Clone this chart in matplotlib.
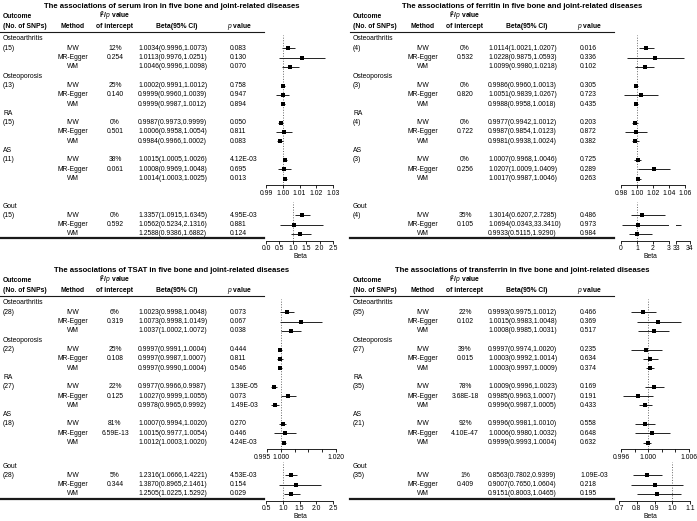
import numpy as np
import matplotlib.pyplot as plt
from matplotlib.lines import Line2D
from matplotlib.transforms import ScaledTranslation

plt.rcParams['font.family'] = ['Liberation Sans', 'DejaVu Sans']
plt.rcParams['mathtext.fontset'] = 'custom'
plt.rcParams['mathtext.rm'] = 'Liberation Sans'
plt.rcParams['mathtext.it'] = 'Liberation Sans:italic'
plt.rcParams['mathtext.bf'] = 'Liberation Sans:bold'

W, H = 697, 521
FS = 4.9
ROW = 9.3

outcomes = ["Osteoarthritis", "Osteoporosis", "RA", "AS", "Gout"]
methods = ["IVW", "MR-Egger", "WM"]

# serum iron
iron_snps = [15, 13, 15, 11, 15]
iron_i2 = ["12%", "25%", "0%", "38%", "0%"]
iron_egger = ["0.254", "0.140", "0.501", "0.061", "0.592"]
iron_beta = [[1.0034, 1.0113, 1.0046], [1.0002, 0.9999, 0.9999], [0.9987, 1.0006, 0.9984],
             [1.0015, 1.0008, 1.0014], [1.3357, 1.0562, 1.2588]]
iron_lo = [[0.9996, 0.9976, 0.9996], [0.9991, 0.9960, 0.9987], [0.9973, 0.9958, 0.9966],
           [1.0005, 0.9969, 1.0003], [1.0915, 0.5234, 0.9386]]
iron_hi = [[1.0073, 1.0251, 1.0098], [1.0012, 1.0039, 1.0012], [0.9999, 1.0054, 1.0002],
           [1.0026, 1.0048, 1.0025], [1.6345, 2.1316, 1.6882]]
iron_p = [["0.083", "0.130", "0.070"], ["0.758", "0.947", "0.894"], ["0.050", "0.811", "0.083"],
          ["4.12E-03", "0.695", "0.013"], ["4.95E-03", "0.881", "0.124"]]

# ferritin
ferr_snps = [4, 3, 4, 3, 4]
ferr_i2 = ["0%", "0%", "0%", "0%", "35%"]
ferr_egger = ["0.532", "0.820", "0.722", "0.256", "0.105"]
ferr_beta = [[1.0114, 1.0228, 1.0099], [0.9986, 1.0051, 0.9988], [0.9977, 0.9987, 0.9981],
             [1.0007, 1.0207, 1.0017], [1.3014, 1.0694, 0.9933]]
ferr_lo = [[1.0021, 0.9875, 0.9980], [0.9960, 0.9839, 0.9958], [0.9942, 0.9854, 0.9938],
           [0.9968, 1.0009, 0.9987], [0.6207, 0.0343, 0.5115]]
ferr_hi = [[1.0207, 1.0593, 1.0218], [1.0013, 1.0267, 1.0018], [1.0012, 1.0123, 1.0024],
           [1.0046, 1.0409, 1.0046], [2.7285, 33.3410, 1.9290]]
ferr_p = [["0.016", "0.336", "0.102"], ["0.305", "0.723", "0.435"], ["0.203", "0.872", "0.382"],
          ["0.725", "0.289", "0.263"], ["0.486", "0.973", "0.984"]]

# TSAT
tsat_snps = [28, 22, 27, 18, 28]
tsat_i2 = ["6%", "25%", "22%", "81%", "5%"]
tsat_egger = ["0.319", "0.108", "0.125", "6.59E-13", "0.344"]
tsat_beta = [[1.0023, 1.0073, 1.0037], [0.9997, 0.9997, 0.9997], [0.9977, 1.0027, 0.9978],
             [1.0007, 1.0015, 1.0012], [1.2316, 1.3870, 1.2505]]
tsat_lo = [[0.9998, 0.9998, 1.0002], [0.9991, 0.9987, 0.9990], [0.9966, 0.9999, 0.9965],
           [0.9994, 0.9977, 1.0003], [1.0666, 0.8965, 1.0225]]
tsat_hi = [[1.0048, 1.0149, 1.0072], [1.0004, 1.0007, 1.0004], [0.9987, 1.0055, 0.9992],
           [1.0020, 1.0054, 1.0020], [1.4221, 2.1461, 1.5292]]
tsat_p = [["0.073", "0.067", "0.038"], ["0.444", "0.811", "0.546"], ["1.39E-05", "0.073", "1.49E-03"],
          ["0.270", "0.446", "4.24E-03"], ["4.53E-03", "0.154", "0.029"]]

# transferrin
tf_snps = [35, 27, 35, 21, 35]
tf_i2 = ["22%", "39%", "78%", "92%", "1%"]
tf_egger = ["0.102", "0.015", "3.68E-18", "4.10E-47", "0.409"]
tf_beta = [[0.9993, 1.0015, 1.0008], [0.9997, 1.0003, 1.0003], [1.0009, 0.9985, 0.9996],
           [0.9996, 1.0006, 0.9999], [0.8563, 0.9007, 0.9151]]
tf_lo = [[0.9975, 0.9983, 0.9985], [0.9974, 0.9992, 0.9997], [0.9996, 0.9963, 0.9987],
         [0.9981, 0.9980, 0.9993], [0.7802, 0.7650, 0.8003]]
tf_hi = [[1.0012, 1.0048, 1.0031], [1.0020, 1.0014, 1.0009], [1.0023, 1.0007, 1.0005],
         [1.0010, 1.0032, 1.0004], [0.9399, 1.0604, 1.0465]]
tf_p = [["0.466", "0.369", "0.517"], ["0.235", "0.634", "0.374"], ["0.169", "0.191", "0.433"],
        ["0.558", "0.648", "0.632"], ["1.09E-03", "0.218", "0.195"]]

fig = plt.figure(figsize=(W / 100, H / 100), dpi=100)


def put(x, y, s, **kw):
    kw.setdefault('fontsize', FS)
    kw.setdefault('va', 'center')
    fig.text(x / W, 1 - y / H, s, **kw)


def hline(x0, x1, y, lw):
    fig.add_artist(Line2D([x0 / W, x1 / W], [1 - y / H, 1 - y / H], lw=lw,
                          color='#1a1a1a', transform=fig.transFigure))


def px_axes(x0, y0, x1, y1):
    ax = fig.add_axes([x0 / W, 1 - y1 / H, (x1 - x0) / W, (y1 - y0) / H])
    ax.set_ylim(y1, y0)
    ax.patch.set_alpha(0)
    for s in ['left', 'right', 'top']:
        ax.spines[s].set_visible(False)
    ax.spines['bottom'].set_linewidth(0.6)
    ax.set_yticks([])
    ax.tick_params(axis='x', length=2.2, width=0.6, labelsize=FS, pad=1.3)
    return ax


def forest(ax, ys, beta, lo, hi, ref=True):
    if ref:
        ax.axvline(1.0, color='#666666', ls=':', lw=0.7)
    ax.hlines(ys, lo, hi, color='#222222', lw=0.7)
    ax.plot(beta, ys, 's', color='black', ms=2.3, mew=0, ls='none')


def panel(px, t, title, snps, i2, egger, beta, lo, hi, pvals,
          up_lim, up_ticks, up_labels, g_lim, g_ticks, g_labels, fx=(266, 333), gfx=(266, 333),
          broken=None, nudge_first=0, gy=199):
    put(px + 172, t, title, fontweight='bold', fontsize=5.55, ha='center')
    put(px + 3, t + 10, "Outcome", fontweight='bold')
    put(px + 3, t + 20, "(No. of SNPs)", fontweight='bold')
    put(px + 73, t + 20, "Method", fontweight='bold', ha='center')
    put(px + 115, t + 10, r"$\mathbf{I}^{\mathbf{2}}$/$\mathit{p}$ value", fontweight='bold', ha='center')
    put(px + 115, t + 20, "of intercept", fontweight='bold', ha='center')
    put(px + 177, t + 20, "Beta(95% CI)", fontweight='bold', ha='center')
    put(px + 227, t + 20, r"$\mathit{p}$ value", fontweight='bold', ha='left')
    hline(px, px + 264, t + 26, 0.8)

    rows_y = []
    for k, name in enumerate(outcomes):
        y0 = t + 33 + ROW * 4 * k if k < 4 else t + gy
        put(px + 3, y0, name)
        ys = [y0 + ROW * (j + 1) for j in range(3)]
        rows_y.append(ys)
        put(px + 3, ys[0], f"({snps[k]})")
        for j, m in enumerate(methods):
            put(px + 73, ys[j], m, ha='center')
            put(px + 138, ys[j], f"{beta[k][j]:.4f}({lo[k][j]:.4f},{hi[k][j]:.4f})")
            put(px + 230, ys[j], pvals[k][j])
        put(px + 115, ys[0], i2[k], ha='center')
        put(px + 115, ys[1], egger[k], ha='center')
    last = rows_y[4][2]
    hline(px, px + 264, last + 4.6, 1.6)

    # upper forest: four outcomes
    ax = px_axes(px + fx[0], t + 29, px + fx[1], t + 179)
    ax.axvline(1.0, color='#666666', ls=':', lw=0.7)
    for k in range(4):
        forest(ax, rows_y[k], beta[k], lo[k], hi[k], ref=False)
    ax.set_xlim(*up_lim)
    ax.set_xticks(up_ticks)
    ax.set_xticklabels(up_labels)
    if nudge_first:
        lbl = ax.xaxis.get_major_ticks()[0].label1
        lbl.set_transform(lbl.get_transform() + ScaledTranslation(nudge_first / 100, 0, fig.dpi_scale_trans))

    # gout forest (own scale)
    g_axis = last + 6.6
    segs = [(gfx, g_lim, g_ticks, g_labels)]
    if broken:
        segs.append(broken)
    for n, (sx, lim, tks, lbls) in enumerate(segs):
        ax = px_axes(px + sx[0], t + gy - 4, px + sx[1], g_axis)
        forest(ax, rows_y[4], beta[4], lo[4], hi[4], ref=(n == 0))
        ax.set_xlim(*lim)
        ax.set_xticks(tks)
        ax.set_xticklabels(lbls)
    put(px + 300, g_axis + 16, "Beta", ha='center')


panel(0, 6, "The associations of serum iron in five bone and joint-related diseases",
      iron_snps, iron_i2, iron_egger, iron_beta, iron_lo, iron_hi, iron_p,
      (0.99, 1.03), [0.99, 1.00, 1.01, 1.02, 1.03], ["0.99", "1.00", "1.01", "1.02", "1.03"],
      (0.0, 2.5), [0.0, 0.5, 1.0, 1.5, 2.0, 2.5], ["0.0", "0.5", "1.0", "1.5", "2.0", "2.5"],
      gy=200)

panel(350, 6, "The associations of ferritin in five bone and joint-related diseases",
      ferr_snps, ferr_i2, ferr_egger, ferr_beta, ferr_lo, ferr_hi, ferr_p,
      (0.98, 1.06), [0.98, 1.00, 1.02, 1.04, 1.06], ["0.98", "1.00", "1.02", "1.04", "1.06"],
      (0, 3), [0, 1, 2, 3], ["0", "1", "2", "3"], fx=(271, 335), gfx=(271, 319),
      broken=((326, 340), (33, 34), [33, 34], ["33", "34"]), gy=200)

panel(0, 270, "The associations of TSAT in five bone and joint-related diseases",
      tsat_snps, tsat_i2, tsat_egger, tsat_beta, tsat_lo, tsat_hi, tsat_p,
      (0.995, 1.020), [0.995, 1.000, 1.005, 1.010, 1.015, 1.020], ["0.995", "1.000", "", "", "", "1.020"],
      (0.5, 2.5), [0.5, 1.0, 1.5, 2.0, 2.5], ["0.5", "1.0", "1.5", "2.0", "2.5"],
      fx=(267, 336), nudge_first=-5, gy=196)

panel(350, 270, "The associations of transferrin in five bone and joint-related diseases",
      tf_snps, tf_i2, tf_egger, tf_beta, tf_lo, tf_hi, tf_p,
      (0.996, 1.006), [0.996, 0.998, 1.000, 1.002, 1.004, 1.006], ["0.996", "", "1.000", "", "", "1.006"],
      (0.7, 1.1), [0.7, 0.8, 0.9, 1.0, 1.1], ["0.7", "0.8", "0.9", "1.0", "1.1"],
      fx=(271, 339), gfx=(269, 340), gy=196)

fig.savefig("out.png", dpi=100)
